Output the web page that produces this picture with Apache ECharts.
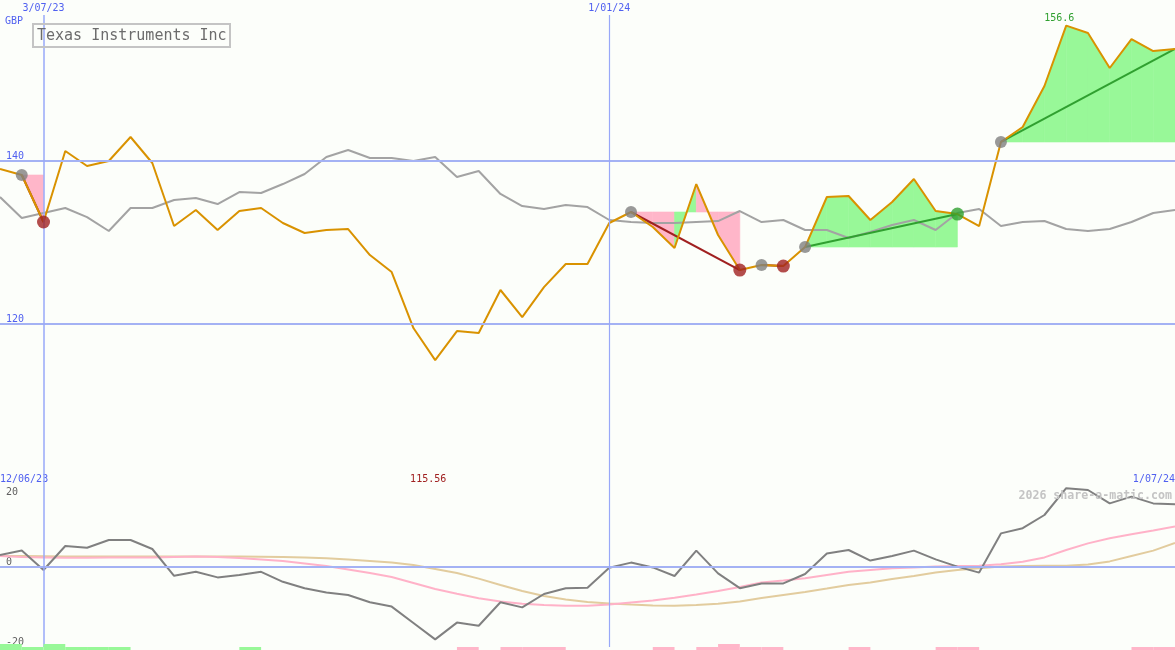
<!DOCTYPE html>
<html><head><meta charset="utf-8">
<script src="https://cdn.jsdelivr.net/npm/echarts@6/dist/echarts.min.js"></script>
<style>html,body{margin:0;padding:0;background:#fcfefa;} #c{width:1175px;height:650px;}</style>
</head><body><div id="c"></div>
<script>
// ---- data ----
const topDateLabels = {2: '3/07/23', 28: '1/01/24'};
const bottomDateLabels = {0: '12/06/23', 54: '1/07/24'};
const priceTicks = [120, 140];
const momTicks = [-20, 0, 20];
const price = [139.01, 138.28, 132.51, 141.22, 139.38, 140.0, 142.94, 139.75, 132.02, 133.98,
  131.53, 133.86, 134.23, 132.39, 131.16, 131.53, 131.65, 128.46, 126.37, 119.5,
  115.56, 119.13, 118.89, 124.17, 120.85, 124.53, 127.36, 127.36, 132.39, 133.74,
  131.9, 129.32, 137.17, 130.92, 126.62, 127.23, 127.11, 129.44, 135.58, 135.7,
  132.76, 134.96, 137.79, 133.86, 133.49, 132.02, 142.33, 144.17, 149.2, 156.6,
  155.7, 151.41, 154.96, 153.49, 153.74];
const relative = [135.58, 133.0, 133.62, 134.23, 133.12, 131.41, 134.23, 134.23, 135.21, 135.46,
  134.72, 136.19, 136.07, 137.17, 138.4, 140.49, 141.35, 140.36, 140.36, 140.0,
  140.49, 138.03, 138.77, 135.95, 134.47, 134.11, 134.6, 134.35, 132.76, 132.51,
  132.39, 132.39, 132.51, 132.63, 133.86, 132.51, 132.76, 131.53, 131.53, 130.55,
  131.28, 132.14, 132.76, 131.53, 133.62, 134.11, 132.02, 132.51, 132.63, 131.65,
  131.41, 131.65, 132.51, 133.62, 133.98];
const momentum = [3.0, 4.1, -0.75, 5.25, 4.8, 6.75, 6.75, 4.5, -2.2, -1.2,
  -2.6, -2.0, -1.2, -3.7, -5.3, -6.4, -7.0, -8.8, -9.9, -14.0,
  -18.1, -13.9, -14.7, -8.8, -10.1, -6.75, -5.3, -5.2, -0.2, 1.1,
  -0.1, -2.25, 4.1, -1.6, -5.3, -4.1, -4.1, -1.75, 3.4, 4.25,
  1.6, 2.75, 4.1, 1.9, 0.1, -1.4, 8.4, 9.7, 13.0, 19.7,
  19.25, 15.9, 17.6, 15.9, 15.7];
const momFast = [2.75, 2.5, 2.4, 2.3, 2.3, 2.4, 2.4, 2.4, 2.5, 2.6,
  2.5, 2.25, 1.9, 1.5, 0.9, 0.25, -0.6, -1.5, -2.5, -4.0,
  -5.5, -6.7, -7.8, -8.6, -9.2, -9.5, -9.7, -9.7, -9.4, -8.9,
  -8.4, -7.7, -6.9, -6.0, -5.0, -3.9, -3.4, -2.8, -2.0, -1.2,
  -0.75, -0.3, -0.1, 0.1, 0.25, 0.3, 0.7, 1.3, 2.4, 4.25,
  5.9, 7.2, 8.2, 9.1, 10.1];
const momSlow = [2.75, 2.75, 2.7, 2.6, 2.6, 2.6, 2.6, 2.6, 2.6, 2.6,
  2.6, 2.6, 2.55, 2.5, 2.4, 2.2, 1.9, 1.5, 1.1, 0.5,
  -0.5, -1.5, -2.9, -4.5, -6.0, -7.25, -8.1, -8.75, -9.1, -9.4,
  -9.6, -9.7, -9.5, -9.2, -8.6, -7.75, -7.0, -6.25, -5.4, -4.5,
  -3.9, -3.0, -2.25, -1.4, -0.75, -0.3, 0.1, 0.25, 0.3, 0.3,
  0.6, 1.4, 2.75, 4.1, 6.0];
const signal = [2, 1, 2, 1, 1, 1, 0, 0, 0, 0,
  0, 1, 0, 0, 0, 0, 0, 0, 0, 0,
  0, -1, 0, -1, -1, -1, 0, 0, 0, 0,
  -1, 0, -1, -2, -1, -1, 0, 0, 0, -1,
  0, 0, 0, -1, -1, 0, 0, 0, 0, 0,
  0, 0, -1, -1, 0];
const trendStart = [1, 29, 35, 37, 46];
const trendEnd = [2, 34, 36, 44, 54];
const trendClosed = [true, true, true, true, false];

// ---- styles ----
const FONT = 'DejaVu Sans Mono';
const BLUE_TXT = '#5060f0';
const GRID_BLUE = '#a4b2f4';
const VLINE = '#98a8f8';
const PINK = '#ffb6c9';
const GREEN_FILL = '#98f898';
const UP = '#30a030';
const DOWN = '#a02020';
const ORANGE = '#d99200';

const idx = price.map((_, i) => i);
const pricePts = idx.map(i => [i, price[i]]);

const fillData = [];
const trendSeries = [];
const markerData = [];
trendStart.forEach((s, t) => {
  const e = trendEnd[t];
  const up = price[e] > price[s];
  for (let k = s; k < e; k++) {
    const green = up ? 1 : (price[k + 1] > price[k] ? 1 : 0);
    fillData.push([k, price[s], price[k], price[k + 1], green]);
  }
  trendSeries.push({
    type: 'line', xAxisIndex: 0, yAxisIndex: 0, z: 3.5, symbol: 'none', silent: true,
    data: [[s, price[s]], [e, price[e]]],
    lineStyle: {color: up ? UP : DOWN, width: 2}
  });
  markerData.push({value: [s, price[s]], symbolSize: 12, itemStyle: {color: '#808080'}});
  if (trendClosed[t]) markerData.push({value: [e, price[e]], symbolSize: 13, itemStyle: {color: up ? UP : DOWN}});
});

const chart = echarts.init(document.getElementById('c'), null, {renderer: 'canvas'});
const option = {
  animation: false,
  backgroundColor: '#fcfefa',
  textStyle: {fontFamily: FONT},
  title: [
    {text: 'Texas Instruments Inc', left: 33, top: 24, padding: [5, 4, 3, 4],
     borderColor: '#c4c4c4', borderWidth: 2,
     textStyle: {fontFamily: FONT, fontSize: 15, fontWeight: 'normal', color: '#6c6c6c'}},
    {text: '2026 share-a-matic.com', right: 3, top: 490, padding: 0,
     textStyle: {fontFamily: FONT, fontSize: 11.6, fontWeight: 'bold', color: '#c4c4c4'}}
  ],
  grid: [
    {left: 0, right: 0, top: 15, height: 472, outerBoundsMode: 'none', containLabel: false},
    {left: 0, right: 0, top: 487, height: 160, outerBoundsMode: 'none', containLabel: false}
  ],
  xAxis: [
    {type: 'value', gridIndex: 0, min: 0, max: 54, interval: 2, position: 'top',
     axisLine: {show: false}, axisTick: {show: false}, splitLine: {show: false},
     axisLabel: {margin: 2, fontSize: 10, fontFamily: FONT, color: BLUE_TXT,
       formatter: v => topDateLabels[v] || ''}},
    {type: 'value', gridIndex: 1, min: 0, max: 54, interval: 54, position: 'top',
     axisLine: {show: true, lineStyle: {color: '#7888f0', width: 2}}, axisTick: {show: false},
     splitLine: {show: false},
     axisLabel: {margin: 3, fontSize: 10, fontFamily: FONT, color: BLUE_TXT,
       alignMinLabel: 'left', alignMaxLabel: 'right',
       formatter: v => bottomDateLabels[v] || ''}}
  ],
  yAxis: [
    {type: 'value', gridIndex: 0, min: 100, max: 157.91, interval: 20,
     name: 'GBP', nameLocation: 'end', nameGap: -1,
     nameTextStyle: {align: 'left', verticalAlign: 'top', padding: [0, 0, 0, 5], fontSize: 10, fontFamily: FONT, color: BLUE_TXT},
     axisLine: {show: false}, axisTick: {show: false}, splitLine: {show: false},
     axisLabel: {inside: true, margin: 6, verticalAlign: 'bottom', fontSize: 10, fontFamily: FONT, color: BLUE_TXT,
       formatter: v => priceTicks.includes(v) ? String(v) : ''}},
    {type: 'value', gridIndex: 1, min: -20, max: 20, interval: 20,
     axisLine: {show: false}, axisTick: {show: false}, splitLine: {show: false},
     axisLabel: {inside: true, margin: 6, verticalAlign: 'bottom', fontSize: 10, fontFamily: FONT, color: '#606060',
       formatter: v => (momTicks.includes(v) && v <= 0) ? String(v) : ''}},
    {type: 'value', gridIndex: 1, min: -20, max: 20, interval: 20, position: 'left',
     axisLine: {show: false}, axisTick: {show: false}, splitLine: {show: false},
     axisLabel: {inside: true, margin: 6, verticalAlign: 'top', fontSize: 10, fontFamily: FONT, color: '#606060',
       formatter: v => (momTicks.includes(v) && v > 0) ? String(v) : ''}}
  ],
  series: [
    {type: 'line', xAxisIndex: 0, yAxisIndex: 0, data: [], z: 1, silent: true,
     markLine: {silent: true, symbol: 'none', label: {show: false},
       data: [
         {yAxis: priceTicks[0], lineStyle: {color: GRID_BLUE, width: 2, type: 'solid'}},
         {yAxis: priceTicks[1], lineStyle: {color: GRID_BLUE, width: 2, type: 'solid'}},
         {xAxis: 2, lineStyle: {color: VLINE, width: 1.5, type: 'solid'}},
         {xAxis: 28, lineStyle: {color: VLINE, width: 1.2, type: 'solid'}}
       ]}},
    {type: 'line', xAxisIndex: 1, yAxisIndex: 1, data: [], z: 1, silent: true,
     markLine: {silent: true, symbol: 'none', label: {show: false},
       data: [
         {yAxis: 0, lineStyle: {color: GRID_BLUE, width: 2, type: 'solid'}},
         {xAxis: 2, lineStyle: {color: VLINE, width: 1.5, type: 'solid'}},
         {xAxis: 28, lineStyle: {color: VLINE, width: 1.2, type: 'solid'}}
       ]}},
    {type: 'custom', xAxisIndex: 0, yAxisIndex: 0, z: 2, silent: true,
     data: fillData, encode: {x: 0, y: 1},
     renderItem: (params, api) => {
       const k = api.value(0), base = api.value(1), p0 = api.value(2), p1 = api.value(3);
       const col = api.value(4) ? GREEN_FILL : PINK;
       return {type: 'polygon',
         shape: {points: [api.coord([k, base]), api.coord([k, p0]), api.coord([k + 1, p1]), api.coord([k + 1, base])]},
         style: {fill: col, stroke: col, lineWidth: 0.6}};
     }},
    {type: 'line', xAxisIndex: 0, yAxisIndex: 0, z: 3, symbol: 'none', silent: true,
     data: idx.map(i => [i, relative[i]]), lineStyle: {color: '#a3a3a3', width: 2}},
    {type: 'line', xAxisIndex: 0, yAxisIndex: 0, z: 4, symbol: 'none', silent: true,
     data: pricePts, lineStyle: {color: ORANGE, width: 2},
     markPoint: {symbol: 'circle', symbolSize: 0, silent: true,
       data: [
         {type: 'max', label: {show: true, position: 'top', distance: 2, offset: [-7, 0],
           formatter: p => p.value.toFixed(1), color: UP, fontSize: 10, fontFamily: FONT}},
         {type: 'min', label: {show: true, position: 'inside', offset: [-7, 119],
           formatter: p => p.value.toFixed(2), color: DOWN, fontSize: 10, fontFamily: FONT}}
       ]}},
    ...trendSeries,
    {type: 'scatter', xAxisIndex: 0, yAxisIndex: 0, z: 6, silent: true, symbol: 'circle',
     data: markerData},
    {type: 'line', xAxisIndex: 1, yAxisIndex: 1, z: 3, symbol: 'none', silent: true,
     data: idx.map(i => [i, momSlow[i]]), lineStyle: {color: '#e2cc9e', width: 2}},
    {type: 'line', xAxisIndex: 1, yAxisIndex: 1, z: 3, symbol: 'none', silent: true,
     data: idx.map(i => [i, momFast[i]]), lineStyle: {color: '#ffb2c8', width: 2}},
    {type: 'line', xAxisIndex: 1, yAxisIndex: 1, z: 4, symbol: 'none', silent: true,
     data: idx.map(i => [i, momentum[i]]), lineStyle: {color: '#808080', width: 2}},
    {type: 'custom', xAxisIndex: 1, yAxisIndex: 1, z: 5, silent: true,
     data: idx.filter(i => signal[i] !== 0).map(i => [i, signal[i]]), encode: {x: 0, y: 1},
     renderItem: (params, api) => {
       const k = api.value(0), v = api.value(1);
       const a = api.coord([k, -20.75]);
       const b = api.coord([k + 1, -20.75 + 0.75 * Math.abs(v)]);
       return {type: 'rect', shape: {x: a[0], y: b[1], width: b[0] - a[0], height: a[1] - b[1]},
         style: {fill: v > 0 ? GREEN_FILL : PINK}};
     }}
  ]
};
chart.setOption(option);
</script>
</body></html>
